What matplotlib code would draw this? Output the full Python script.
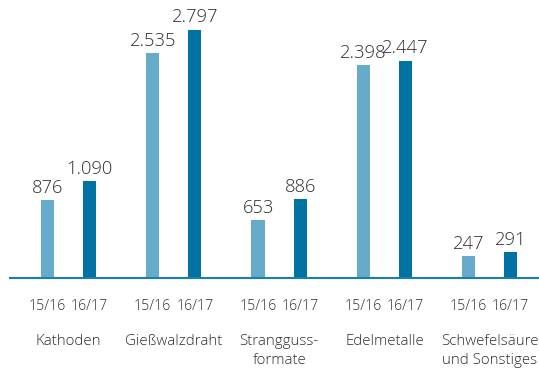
import matplotlib
matplotlib.use("Agg")
import matplotlib.pyplot as plt
import matplotlib.transforms as mtransforms
import numpy as np

plt.rcParams['font.family'] = ['Open Sans', 'DejaVu Sans']

# Absatz nach Produkten (Tonnen, in Tausend)
kategorien = ['Kathoden', 'Gießwalzdraht', 'Strangguss-\nformate', 'Edelmetalle', 'Schwefelsäure\nund Sonstiges']
jahre = ['15/16', '16/17']
werte_1516 = [876, 2535, 653, 2398, 247]
werte_1617 = [1090, 2797, 886, 2447, 291]
labels_1516 = ['876', '2.535', '653', '2.398', '247']
labels_1617 = ['1.090', '2.797', '886', '2.447', '291']

hell = '#67abcb'
dunkel = '#0072a3'
textfarbe = '#2e2e2e'

fig = plt.figure(figsize=(5.39, 3.73), dpi=100)
ax = fig.add_axes([10 / 539, 95 / 373, 1 - 10 / 539, 1 - 95 / 373])

x = np.arange(len(kategorien))
off = 0.2
breite = 0.125

b1 = ax.bar(x - off, werte_1516, breite, color=hell)
b2 = ax.bar(x + off, werte_1617, breite, color=dunkel)

ax.set_xlim(-0.556, 4.468)
ax.set_ylim(0, 3134)
ax.axis('off')
ax.axhline(0, color='#1a7db0', lw=1.5, clip_on=False)

for bars, labs in ((b1, labels_1516), (b2, labels_1617)):
    for rect, lab in zip(bars, labs):
        ax.annotate(lab, (rect.get_x() + rect.get_width() / 2, rect.get_height()),
                    xytext=(0, 2.5), textcoords='offset points',
                    ha='center', va='bottom', fontsize=13.2,
                    fontweight='light', color=textfarbe)

trans = mtransforms.blended_transform_factory(ax.transData, fig.transFigure)
for i in x:
    for dx, j in zip((-off, off), jahre):
        ax.text(i + dx, 1 - 307 / 373, j, transform=trans, ha='center', va='center',
                fontsize=10.2, fontweight='light', color=textfarbe)
    ax.text(i, 1 - 334 / 373, kategorien[i], transform=trans, ha='center', va='top',
            fontsize=10.8, fontweight='light', color=textfarbe, linespacing=1.4)

fig.savefig('out.png', dpi=100)
